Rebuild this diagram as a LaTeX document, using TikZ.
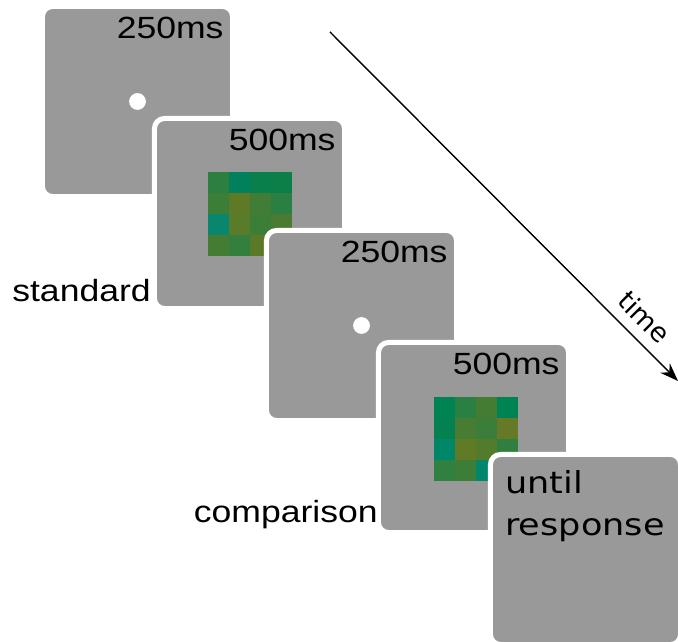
\documentclass[tikz,border=0pt]{standalone}
\usepackage{fontspec}
\usetikzlibrary{positioning, arrows.meta}
\newfontfamily\labelfont[FakeStretch=1.16]{Liberation Sans}
\newfontfamily\boxfont[FakeStretch=1.16]{DejaVu Sans}
\newfontfamily\timefont{DejaVu Sans}
\definecolor{panelgray}{HTML}{999999}

\begin{document}
\begin{tikzpicture}[
  x=0.025cm, y=-0.025cm,
  panel/.style={draw=white, line width=0.125cm, fill=panelgray, rounded corners=0.25cm, minimum size=4.75cm, inner sep=0pt},
  dot/.style={circle, fill=white, minimum size=0.42cm, inner sep=0pt},
  stamp/.style={inner sep=0pt, font=\labelfont\fontsize{21.8}{26}\selectfont},
  arrow/.style={-{Stealth[length=13pt, width=9.5pt]}, line width=1pt}
]
\useasboundingbox (0,0) rectangle (678,642);

% Fixation (standard)
\node[panel] (fix1) at (137.5,101.5) {};
\node[dot] (dot1) at (fix1) {};
\node[stamp, below left=0.32cm and 0.28cm of fix1.north east] (dur1) {250ms};

% Standard stimulus
\node[panel] (stim1) at (249.5,213.5) {};
\begin{scope}[shift={(208,172)}]
  \foreach \c [count=\n from 0] in {2D7E41,00815C,097F4B,0B7F47,
                                    3A7E38,5E7A26,417D36,2B7F42,
                                    08876E,5A7B2A,3C7E38,4A7B30,
                                    447C33,357F3E,5B7A28,3F7D36} {
    \pgfmathtruncatemacro{\gx}{mod(\n,4)}
    \pgfmathtruncatemacro{\gy}{div(\n,4)}
    \definecolor{cell}{HTML}{\c}
    \fill[cell] (\gx*21,\gy*21) rectangle ++(21.4,21.4);
  }
\end{scope}
\node[stamp, below left=0.32cm and 0.28cm of stim1.north east] (dur2) {500ms};
\node[stamp, anchor=base east] (std) at (151,302) {standard};

% Fixation (comparison)
\node[panel] (fix2) at (361.5,325.5) {};
\node[dot] (dot2) at (fix2) {};
\node[stamp, below left=0.32cm and 0.28cm of fix2.north east] (dur3) {250ms};

% Comparison stimulus
\node[panel] (stim2) at (473.5,437.5) {};
\begin{scope}[shift={(434,397)}]
  \foreach \c [count=\n from 0] in {008353,2A7F42,447C34,008352,
                                    058151,487C32,3A7E3A,667926,
                                    00876A,617A26,527B2C,307F3F,
                                    2F8041,3E7D37,00876C,3A7E38} {
    \pgfmathtruncatemacro{\gx}{mod(\n,4)}
    \pgfmathtruncatemacro{\gy}{div(\n,4)}
    \definecolor{cell}{HTML}{\c}
    \fill[cell] (\gx*21,\gy*21) rectangle ++(21.4,21.4);
  }
\end{scope}
\node[stamp, below left=0.32cm and 0.28cm of stim2.north east] (dur4) {500ms};
\node[stamp, anchor=base east] (cmp) at (378,523) {comparison};

% Response
\node[panel] (resp) at (585.5,549.5) {};
\node[inner sep=0pt, align=left, font=\boxfont\fontsize{21.5}{30}\selectfont,
  below right=0.45cm and 0.425cm of resp.north west] (until) {until\\response};

% Time axis
\coordinate (tstart) at (330,32);
\coordinate (tend) at (678,381);
\draw[arrow] (tstart) -- (tend)
  node[pos=0.86, sloped, above=4pt, font=\timefont\fontsize{19}{22}\selectfont] (timelabel) {time};

\end{tikzpicture}
\end{document}
